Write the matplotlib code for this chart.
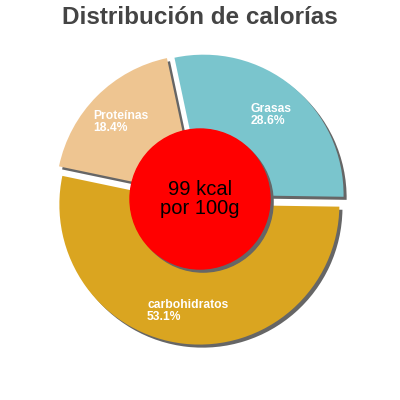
import numpy as np
import matplotlib
matplotlib.use("Agg")
import matplotlib.pyplot as plt

labels = ["Grasas", "carbohidratos", "Proteínas"]
values = [28.6, 53.1, 18.4]
colors = ["#7AC5CD", "#DAA520", "#EEC591"]
title = "Distribución de calorías"
center_text = "99 kcal\npor 100g"

plt.rcParams['font.family'] = ['Liberation Sans', 'DejaVu Sans']

fig = plt.figure(figsize=(4, 4), dpi=100)
ax = fig.add_axes([0, 0, 1, 1])
ax.axis('off')

explode = [0.04, 0.04, 0.04]
start = 102
off = (0.022, -0.022)

# shadow first, then the real pie on top
ax.pie(values, startangle=start, counterclock=False, explode=explode,
       colors=["#666666"] * 3, center=off, radius=1.0)
wedges, _ = ax.pie(values, startangle=start, counterclock=False, explode=explode,
                   colors=colors, radius=1.0)

for w, lab, v in zip(wedges, labels, values):
    ang = np.deg2rad((w.theta1 + w.theta2) / 2)
    cx, cy = w.center
    r = 0.755
    ax.text(cx + r * np.cos(ang), cy + r * np.sin(ang) - 0.012, f"{lab}\n{v}%",
            ha='center', va='center', multialignment='left', color='white',
            fontsize=8.7, fontweight='bold', linespacing=1.0)

# center disc with its shadow
ax.add_patch(plt.Circle(off, 0.5, color="#666666", zorder=3))
ax.add_patch(plt.Circle((0, 0), 0.5, color="#FF0000", zorder=4))
ax.text(0, 0.0, center_text, ha='center', va='center', fontsize=14.5,
        color='black', linespacing=0.95, zorder=5)

ax.set_xlim(-200 / 140, 200 / 140)
ax.set_ylim(-201 / 140, 199 / 140)

fig.text(0.5, 1 - 17 / 400, title, ha='center', va='center', fontsize=17.5,
         fontweight='bold', color='#444444')

fig.savefig("out.png", dpi=100)
